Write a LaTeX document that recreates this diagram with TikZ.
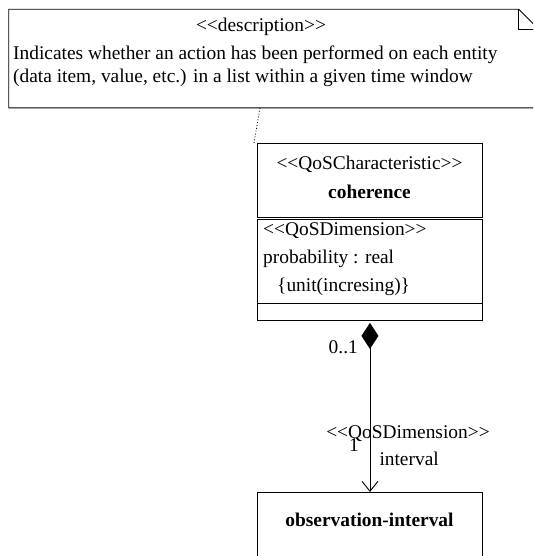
\documentclass[tikz,border=0pt]{standalone}
\usepackage{fontspec}
\setmainfont{Liberation Serif}
\usetikzlibrary{arrows.meta, positioning}
\newcommand\stereo[1]{<\kern0pt<#1>\kern0pt>}

\begin{document}
\begin{tikzpicture}[
      x=1pt, y=-1pt,
      every node/.append style={font=\fontsize{19.4}{22.7}\selectfont, inner sep=0pt},
      line/.style={line width=0.9pt},
      box/.style={rectangle, draw, line, minimum width=225pt, anchor=north west},
      txt/.style={anchor=base},
      ltxt/.style={anchor=base west},
    ]
      \useasboundingbox (0,0) rectangle (533,556);
      \clip (0,0) rectangle (533,556);

      % note with folded corner
      \node[box, draw=none, minimum width=529.3pt, minimum height=97.7pt] (note) at (8.7,9.3) {};
      \draw[line] (note.north west) -- ([xshift=-20pt]note.north east) -- ([yshift=-20pt]note.north east)
        -- (note.south east) -- (note.south west) -- cycle;
      \draw[line] ([xshift=-20pt]note.north east) |- ([yshift=-20pt]note.north east);
      \node[txt] (notehead) at (261,31.7) {\stereo{description}};
      \node[ltxt] (notelinea) at (13,60) {Indicates whether an action has been performed on each entity};
      \node[ltxt] (notelineb) at (13,82.7) {(data item, value, etc.) in a list within a given time window};

      % class coherence
      \node[box, minimum height=74.3pt] (cohname) at (257,143) {};
      \node[box, minimum height=83.7pt] (cohattr) at (257,219.3) {};
      \node[box, minimum height=17pt] (cohops) at (257,303) {};
      \node[txt] (cohstereo) at (369.5,169.3) {\stereo{QoSCharacteristic}};
      \node[txt] (cohtitle) at (369.5,198.3) {\bfseries coherence};
      \node[ltxt] (attrstereo) at (263,235) {\stereo{QoSDimension}};
      \node[ltxt] (attrname) at (263,263.3) {probability : real};
      \node[ltxt] (attrunit) at (277,291.7) {\{unit(incresing)\}};

      % class observation-interval
      \node[box, minimum height=80pt] (obs) at (257,492) {};
      \node[txt] (obstitle) at (369.5,526.7) {\bfseries observation-interval};

      \draw[line, dotted] ([xshift=251.3pt]note.south west) -- ([xshift=-3pt]cohname.north west);
      \draw[line, {Diamond[length=26pt,width=17pt]}-{Straight Barb[length=10pt,width=16pt]}, shorten <=2pt]
        (cohops.south) -- (obs.north);

      % association ends
      \node[anchor=base east] (multsrc) at (358,353) {0..1};
      \node[txt] (assocstereo) at (408,438) {\stereo{QoSDimension}};
      \node[txt] (multdst) at (354,451.7) {1};
      \node[ltxt] (rolename) at (379.3,465.7) {interval};
    \end{tikzpicture}
\end{document}
